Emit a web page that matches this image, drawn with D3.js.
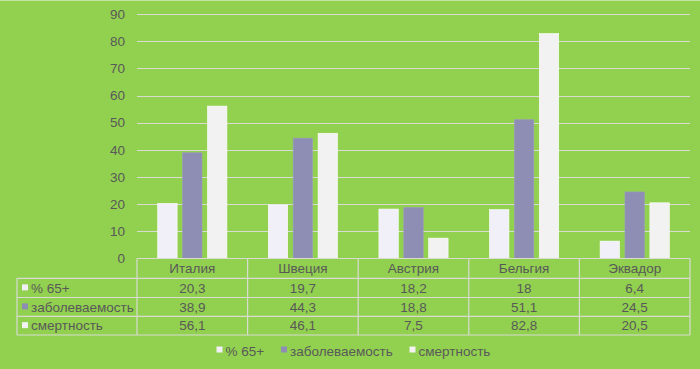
<!DOCTYPE html>
<html><head><meta charset="utf-8">
<script src="https://cdn.jsdelivr.net/npm/d3@7"></script>
<style>html,body{margin:0;padding:0;background:#92d050;}svg{display:block;}</style>
</head><body>
<svg id="c" width="700" height="369"></svg>
<script>
const categories = ["Италия", "Швеция", "Австрия", "Бельгия", "Эквадор"];
const seriesNames = ["% 65+", "заболеваемость", "смертность"];
const pct65 = [20.3, 19.7, 18.2, 18, 6.4];
const morbidity = [38.9, 44.3, 18.8, 51.1, 24.5];
const mortality = [56.1, 46.1, 7.5, 82.8, 20.5];
const tableLabels = [["20,3","19,7","18,2","18","6,4"],["38,9","44,3","18,8","51,1","24,5"],["56,1","46,1","7,5","82,8","20,5"]];
const yTicks = [0,10,20,30,40,50,60,70,80,90];

(function(){
const seriesVals = [pct65, morbidity, mortality];
const colors = ["#f1f0f8", "#8e8db4", "#f2f2f2"];
const textColor = "#595959";
const gridColor = "#d8dcd2";
const font = "'Liberation Sans', Arial, sans-serif";
const fs = "13.5px";

const svg = d3.select("#c");
svg.append("rect").attr("x",0).attr("y",0).attr("width",700).attr("height",369).attr("fill","#92d050");
svg.append("line").attr("x1",0).attr("x2",700).attr("y1",0.5).attr("y2",0.5).attr("stroke","#c4e4a4");

const pLeft = 137, pRight = 690, pTop = 14, pBottom = 258.5;
const x = d3.scaleBand().domain(categories).range([pLeft, pRight]);
const bw = x.bandwidth();
const groupW = 69.2;
const x1 = d3.scaleBand().domain(seriesNames).range([(bw-groupW)/2, (bw+groupW)/2]).paddingInner(0.22);
const y = d3.scaleLinear().domain([0,90]).range([pBottom, pTop]);

svg.append("g").selectAll("line").data(yTicks.filter(t=>t>0)).join("line")
  .attr("x1", pLeft).attr("x2", pRight)
  .attr("y1", d=>Math.round(y(d))+0.5).attr("y2", d=>Math.round(y(d))+0.5)
  .attr("stroke", gridColor).attr("stroke-width",1);

const yAxis = d3.axisLeft(y).tickValues(yTicks).tickSize(0).tickPadding(0);
const ya = svg.append("g").attr("transform", `translate(${125},0)`).call(yAxis);
ya.select(".domain").remove();
ya.selectAll("text").attr("fill", textColor).style("font-family", font).style("font-size", fs);

seriesNames.forEach((s, si) => {
  svg.append("g").selectAll("rect").data(categories).join("rect")
    .attr("x", (c)=> x(c) + x1(s))
    .attr("width", x1.bandwidth())
    .attr("y", (c,i)=> y(seriesVals[si][i]))
    .attr("height", (c,i)=> y(0) - y(seriesVals[si][i]))
    .attr("fill", colors[si])
    .attr("stroke", si===1 ? "#9c9bc0" : "#ffffff").attr("stroke-width", 0.6);
});

const rowY = [pBottom, 278.3, 297.5, 316.3, 335];
const tleft = 17;
const tg = svg.append("g");
const lineAttr = sel => sel.attr("stroke", gridColor).attr("stroke-width",1.2).attr("fill","none");
tg.append("line").attr("x1", pLeft).attr("x2", pRight).attr("y1", rowY[0]).attr("y2", rowY[0]).call(lineAttr);
for (let r=1;r<rowY.length;r++){
  tg.append("line").attr("x1", tleft).attr("x2", pRight).attr("y1", rowY[r]).attr("y2", rowY[r]).call(lineAttr);
}
tg.append("line").attr("x1", tleft).attr("x2", tleft).attr("y1", rowY[1]).attr("y2", rowY[4]).call(lineAttr);
categories.forEach(c=>{
  tg.append("line").attr("x1", x(c)).attr("x2", x(c)).attr("y1", rowY[0]).attr("y2", rowY[4]).call(lineAttr);
});
tg.append("line").attr("x1", pRight).attr("x2", pRight).attr("y1", rowY[0]).attr("y2", rowY[4]).call(lineAttr);

tg.selectAll("text.cat").data(categories).join("text").attr("class","cat")
  .attr("x", c=> x(c)+bw/2).attr("y", (rowY[0]+rowY[1])/2+4.7)
  .attr("text-anchor","middle").attr("fill", textColor)
  .style("font-family", font).style("font-size", fs).text(c=>c);
seriesNames.forEach((s, si) => {
  const cy = (rowY[si+1]+rowY[si+2])/2;
  tg.append("rect").attr("x", 22).attr("y", cy-3.5).attr("width",6).attr("height",6).attr("fill", colors[si]);
  tg.append("text").attr("x", 31).attr("y", cy+4.7).attr("fill", textColor)
    .style("font-family", font).style("font-size", fs).text(s);
  tg.append("g").selectAll("text").data(categories).join("text")
    .attr("x", c=> x(c)+bw/2).attr("y", cy+4.7).attr("text-anchor","middle").attr("fill", textColor)
    .style("font-family", font).style("font-size", fs).text((c,i)=> tableLabels[si][i]);
});

const legX = [216.5, 281, 409.5];
const lg = svg.append("g");
seriesNames.forEach((s, si)=>{
  lg.append("rect").attr("x", legX[si]).attr("y", 346.5).attr("width",6).attr("height",6).attr("fill", colors[si]);
  lg.append("text").attr("x", legX[si]+9).attr("y", 355.5).attr("fill", textColor)
    .style("font-family", font).style("font-size", fs).text(s);
});
})();
</script>
</body></html>
